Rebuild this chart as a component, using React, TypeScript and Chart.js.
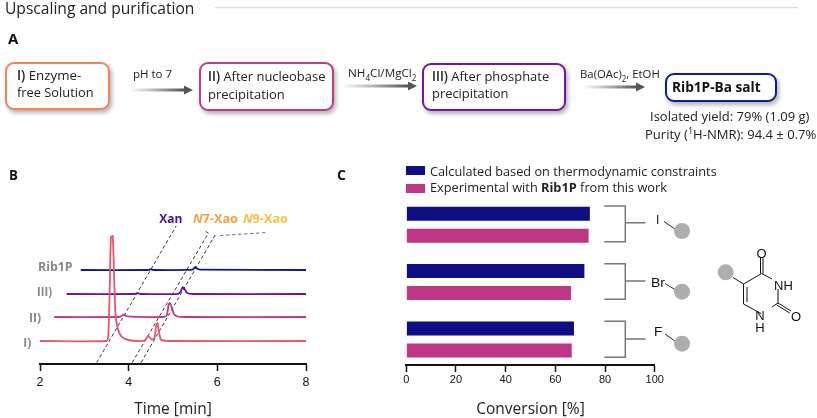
import React, { useEffect, useLayoutEffect, useRef } from "react";
import { Chart, registerables } from "chart.js";

Chart.register(...registerables);

const FONT = '"Open Sans", sans-serif';
const TEXT_FONT = FONT;
const TICK_FONT = '"Liberation Sans", Arial, sans-serif';

// Panel B: chromatogram traces, time in min, signal in arbitrary units
const timeI = [2, 3.5, 3.54, 3.57, 3.6, 3.64, 3.67, 3.7, 3.74, 3.8, 3.88, 4.0, 4.2, 4.36, 4.44, 4.52, 4.58, 4.62, 4.65, 4.68, 4.72, 4.78, 5, 8];
const signalI = [23, 23, 28, 70, 127, 128, 90, 52, 38, 30, 26, 24, 23, 23.5, 28, 24.5, 26, 38, 41, 33, 25, 23.5, 23, 23];
const timeII = [2.32, 3.78, 3.84, 3.89, 3.95, 4.05, 4.78, 4.86, 4.9, 4.93, 4.97, 5.02, 5.1, 5.3, 8];
const signalII = [47, 47, 48, 49.5, 48, 47.3, 47, 48.5, 59, 61, 57, 50, 47.5, 47, 47];
const timeIII = [2.6, 4.14, 4.2, 4.26, 5.12, 5.18, 5.22, 5.26, 5.32, 5.45, 8];
const signalIII = [70, 70, 70.8, 70, 70.2, 73, 77, 75, 71, 70, 70];
const timeRib = [2.92, 4.44, 4.5, 4.56, 5.44, 5.5, 5.54, 5.62, 8];
const signalRib = [94, 94, 94.6, 94, 94.3, 97, 95.5, 94.3, 94];

// Panel B: guide lines that connect the peaks to their labels
const xanGuideTime = [3.28, 5.07];
const xanGuideSignal = [1.5, 138];
const n7GuideTime = [4.08, 5.8, 5.72];
const n7GuideSignal = [1.5, 131, 133];
const n9GuideTime = [4.28, 5.95];
const n9GuideSignal = [1.5, 129];
const n9StubTime = [6.06, 7.14];
const n9StubSignal = [128.5, 131.5];

const traceLabels = ["I)", "II)", "III)", "Rib1P"];
const traceColors = ["#E2586F", "#C2368C", "#6C0FA6", "#10188C"];

// Panel C: conversions
const halogens = ["I", "Br", "F"];
const calculated = [73.9, 71.7, 67.5];
const experimental = [73.4, 66.3, 66.6];
const seriesCalculated = "Calculated based on thermodynamic constraints";

const pairs = (xs: number[], ys: number[]) => xs.map((x, i) => ({ x, y: ys[i] }));

// Text placed by its left edge and vertical centre, fitted to a measured width
function Fit({ x, y, w, children, size = 12, weight = 400, color = "#222", font = TEXT_FONT }: any) {
  const ref = useRef<HTMLDivElement>(null);
  useLayoutEffect(() => {
    const el = ref.current!;
    const k = w / el.offsetWidth;
    el.style.transform = `translateY(-50%) scaleX(${k})`;
  }, [w]);
  return (
    <div ref={ref} style={{ position: "absolute", left: x, top: y, fontSize: size, fontWeight: weight, color, fontFamily: font, whiteSpace: "nowrap", lineHeight: 1, transformOrigin: "left center", transform: "translateY(-50%)" }}>
      {children}
    </div>
  );
}

function Box({ x, y, w, h, color }: any) {
  return <div style={{ position: "absolute", left: x, top: y, width: w, height: h, boxSizing: "border-box", border: `2px solid ${color}`, borderRadius: 9, background: "#fff", boxShadow: "2px 3px 4px rgba(0,0,0,0.3)" }} />;
}

function Arrow({ x, y, w }: any) {
  return (
    <svg style={{ position: "absolute", left: x, top: y - 6 }} width={w} height={12}>
      <defs>
        <linearGradient id={`g${x}`} x1="0" x2="1" y1="0" y2="0">
          <stop offset="0" stopColor="#666" stopOpacity="0" />
          <stop offset="1" stopColor="#555" />
        </linearGradient>
      </defs>
      <rect x={0} y={4.5} width={w - 9} height={3} fill={`url(#g${x})`} />
      <polygon points={`${w - 9},1.5 ${w},6 ${w - 9},10.5`} fill="#555" />
    </svg>
  );
}

function Decor() {
  const gray = "#777";
  const dot = "#B0ADAD";
  const rows = [
    { top: 206, bot: 241.7, stem: 222.7, bx1: 664, by1: 221.5, bx2: 675, by2: 229, cy: 231 },
    { top: 263.7, bot: 299.3, stem: 281, bx1: 665, by1: 283.5, bx2: 675, by2: 289.5, cy: 291.7 },
    { top: 321.3, bot: 357.3, stem: 339, bx1: 665, by1: 334, bx2: 675, by2: 341, cy: 343.7 },
  ];
  return (
    <svg style={{ position: "absolute", left: 0, top: 0 }} width={817} height={418}>
      <line x1={215} y1={7.7} x2={798} y2={7.7} stroke="#D4D4D4" strokeWidth={1} />
      {rows.map((r, i) => (
        <g key={i}>
          <path d={`M604.3 ${r.top} H625.3 V${r.bot} H604.3 M625.3 ${r.stem} H645.5`} fill="none" stroke={gray} strokeWidth={1.5} />
          <line x1={r.bx1} y1={r.by1} x2={r.bx2} y2={r.by2} stroke="#222" strokeWidth={1} />
          <circle cx={682} cy={r.cy} r={8} fill={dot} />
        </g>
      ))}
      <circle cx={725.7} cy={272.3} r={8} fill={dot} />
      <g fill="none" stroke="#111" strokeWidth={1}>
        <path d="M733 277.5 L743.5 284 L761.7 273.5 L772 279" />
        <path d="M778 289 V303 L772 307" />
        <path d="M761 313.5 L743.5 304 V284 M747 302 V287" />
        <path d="M760.5 273.5 V258 M763 273.5 V258" />
        <path d="M778 303 L791 311 M776.8 305 L789.8 313" />
      </g>
      {[
        ["O", 761.5, 258],
        ["NH", 783.5, 290],
        ["N", 760, 319.5],
        ["H", 760, 332],
        ["O", 796, 320.5],
      ].map(([t, x, y], i) => (
        <text key={i} x={x as number} y={y as number} textAnchor="middle" fontFamily={TICK_FONT} fontSize={13} fill="#111">
          {t}
        </text>
      ))}
    </svg>
  );
}

export default function App() {
  const bRef = useRef<HTMLCanvasElement>(null);
  const cRef = useRef<HTMLCanvasElement>(null);

  useEffect(() => {
    document.body.style.margin = "0";
    const xAxis = (title: string, titleSize: number, height: number, tickSize: number, pad: number, step: number, max: number, min: number) => ({
      type: "linear",
      display: true,
      min,
      max,
      afterFit: (s: any) => {
        s.height = height;
      },
      border: { display: true, color: "#111", width: 2 },
      grid: { display: true, drawOnChartArea: false, drawTicks: true, tickLength: 7, tickColor: "#111", tickWidth: 1.5 },
      title: { display: true, text: title, color: "#222", font: { family: FONT, size: titleSize, lineHeight: 1.1 }, padding: { top: 0, bottom: 0 } },
      ticks: { color: "#111", font: { family: TICK_FONT, size: tickSize }, padding: pad, maxRotation: 0, autoSkip: false, stepSize: step },
    });

    const traces = [
      [timeI, signalI],
      [timeII, signalII],
      [timeIII, signalIII],
      [timeRib, signalRib],
    ];
    const guide = (name: string, xs: number[], ys: number[], color: string) => ({
      label: name,
      data: pairs(xs, ys),
      borderColor: color,
      borderWidth: 1,
      borderDash: [3.5, 2.5],
      pointRadius: 0,
      tension: 0,
    });
    const b = new Chart(bRef.current!, {
      type: "line",
      data: {
        datasets: [
          ...traces.map(([xs, ys], i) => ({
            label: traceLabels[i],
            data: pairs(xs, ys),
            borderColor: traceColors[i],
            borderWidth: 1.8,
            pointRadius: 0,
            tension: 0.2,
          })),
          guide("Xan", xanGuideTime, xanGuideSignal, "#33335A"),
          guide("N7-Xao", n7GuideTime, n7GuideSignal, "#3A3038"),
          guide("N9-Xao", n9GuideTime, n9GuideSignal, "#333"),
          guide("N9-Xao label", n9StubTime, n9StubSignal, "#A0604A"),
        ],
      },
      options: {
        animation: false,
        responsive: false,
        layout: { autoPadding: false, padding: { left: 40, right: 24, top: 56, bottom: 0 } },
        plugins: { legend: { display: false }, tooltip: { enabled: false } },
        scales: {
          x: xAxis("Time [min]", 15.5, 54, 12.5, 4, 2, 8, 2),
          y: { type: "linear", display: false, min: 0, max: 138 },
        },
      } as any,
    });

    const c = new Chart(cRef.current!, {
      type: "bar",
      data: {
        datasets: [
          { label: seriesCalculated, data: calculated.map((v, i) => ({ x: v, y: i })), backgroundColor: "#0E0E85" },
          { label: "Experimental with Rib1P from this work", data: experimental.map((v, i) => ({ x: v, y: i })), backgroundColor: "#BE3787" },
        ],
      },
      options: {
        indexAxis: "y",
        animation: false,
        responsive: false,
        categoryPercentage: 0.767,
        barPercentage: 0.636,
        layout: { autoPadding: false, padding: { left: 10.3, right: 11.3, top: 26, bottom: 0 } },
        plugins: { legend: { display: false }, tooltip: { enabled: false } },
        scales: {
          x: xAxis("Conversion [%]", 15.5, 53, 11, 1, 20, 100, 0),
          y: { type: "linear", display: false, offset: false, reverse: true, min: -0.5, max: 2.444, ticks: { stepSize: 1, includeBounds: false } },
        },
      } as any,
    });
    return () => {
      b.destroy();
      c.destroy();
    };
  }, []);

  const sub = { fontSize: "0.7em", lineHeight: 0 } as const;
  const gray = "#888";

  return (
    <div style={{ position: "relative", width: 817, height: 418, overflow: "hidden", background: "#fff" }}>
      <canvas ref={bRef} width={330} height={248} style={{ position: "absolute", left: 0, top: 170, width: 330, height: 248 }} />
      <canvas ref={cRef} width={270} height={248} style={{ position: "absolute", left: 396, top: 170, width: 270, height: 248 }} />
      <Decor />

      <Fit x={5.2} y={8.3} w={189} size={16}>Upscaling and purification</Fit>
      <Fit x={8} y={38} w={10} size={15} weight={700} color="#111">A</Fit>
      <Fit x={9} y={175} w={8.5} size={14} weight={700} color="#111">B</Fit>
      <Fit x={337} y={175} w={9} size={14} weight={700} color="#111">C</Fit>

      <Box x={5} y={62} w={105} h={48} color="#F4835C" />
      <Box x={199} y={62.3} w={135} h={48.4} color="#C4398A" />
      <Box x={422} y={62.7} w={144} h={48.3} color="#7A10B0" />
      <Box x={665} y={73.3} w={111.7} h={29} color="#101C90" />
      <Fit x={16.7} y={76} w={64} size={13.5}><b style={{ fontWeight: 600 }}>I)</b> Enzyme-</Fit>
      <Fit x={16.7} y={93} w={77} size={13.5}>free Solution</Fit>
      <Fit x={208.4} y={77} w={117} size={13.5}><b style={{ fontWeight: 600 }}>II)</b> After nucleobase</Fit>
      <Fit x={208.4} y={95} w={77} size={13.5}>precipitation</Fit>
      <Fit x={431.5} y={77} w={117} size={13.5}><b style={{ fontWeight: 600 }}>III)</b> After phosphate</Fit>
      <Fit x={431.5} y={94} w={76.5} size={13.5}>precipitation</Fit>
      <Fit x={671.5} y={87} w={88.5} size={14.5} weight={700} color="#111">Rib1P-Ba salt</Fit>

      <Arrow x={130} y={89.5} w={63} />
      <Arrow x={341} y={85.7} w={76} />
      <Arrow x={583} y={87.3} w={62} />

      <Fit x={133} y={74} w={39} size={11.5}>pH to 7</Fit>
      <Fit x={347.6} y={73} w={68} size={11.5}>NH<sub style={sub}>4</sub>Cl/MgCl<sub style={sub}>2</sub></Fit>
      <Fit x={579.5} y={74} w={80} size={11.5}>Ba(OAc)<sub style={sub}>2</sub>, EtOH</Fit>
      <Fit x={650} y={117} w={159} size={13.5}>Isolated yield: 79% (1.09 g)</Fit>
      <Fit x={644.6} y={135} w={171} size={13.5}>Purity (<sup style={sub}>1</sup>H-NMR): 94.4 ± 0.7%</Fit>

      <Fit x={37.7} y={266.7} w={35} size={12} weight={700} color={gray}>Rib1P</Fit>
      <Fit x={36.7} y={291.7} w={15} size={12} weight={700} color={gray}>III)</Fit>
      <Fit x={29} y={318} w={12} size={12} weight={700} color={gray}>II)</Fit>
      <Fit x={23.3} y={342.7} w={8} size={12} weight={700} color={gray}>I)</Fit>
      <Fit x={159.3} y={218.7} w={23} size={12} weight={700} color="#4A0E9E">Xan</Fit>
      <Fit x={192.7} y={218.7} w={44.5} size={12} weight={700} color="#F0A040"><i>N</i>7-Xao</Fit>
      <Fit x={242.7} y={218.7} w={44.5} size={12} weight={700} color="#F6C23A"><i>N</i>9-Xao</Fit>

      <div style={{ position: "absolute", left: 406, top: 165.7, width: 19, height: 9.5, background: "#0E0E85" }} />
      <div style={{ position: "absolute", left: 406, top: 183.7, width: 19, height: 9.5, background: "#BE3787" }} />
      <Fit x={430} y={171.5} w={287} size={12.5}>{seriesCalculated}</Fit>
      <Fit x={430} y={188} w={237} size={12.5}>Experimental with <b>Rib1P</b> from this work</Fit>

      <Fit x={656} y={219.5} w={3} size={12} font={TICK_FONT} color="#111">{halogens[0]}</Fit>
      <Fit x={651} y={282.5} w={14} size={12} font={TICK_FONT} color="#111">{halogens[1]}</Fit>
      <Fit x={653.5} y={331.5} w={8} size={12} font={TICK_FONT} color="#111">{halogens[2]}</Fit>
    </div>
  );
}
